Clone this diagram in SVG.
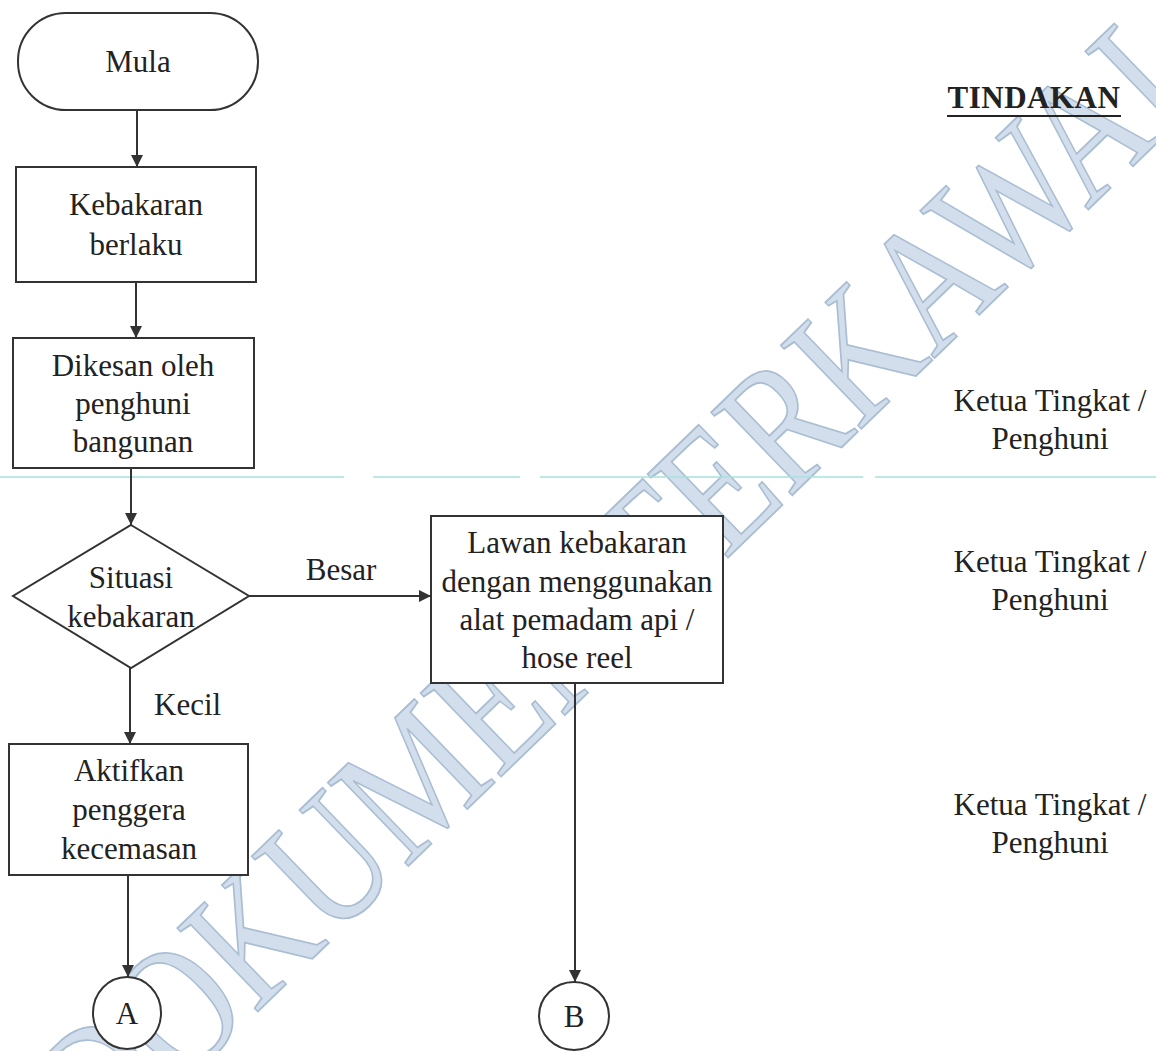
<svg xmlns="http://www.w3.org/2000/svg" width="1156" height="1051" viewBox="0 0 1156 1051">
<style>
.t{font-family:"Liberation Serif","Times New Roman",serif;font-size:31px;fill:#222;text-anchor:middle}
.s{fill:#fff;stroke:#333;stroke-width:2}
.c{stroke:#333;stroke-width:2;fill:none}
.wm{font-family:"Liberation Serif","Times New Roman",serif;font-size:145px;fill:#d2deeb;stroke:#a9bdd3;stroke-width:1.5}
</style>
<defs>
<marker id="ah" markerUnits="userSpaceOnUse" markerWidth="12" markerHeight="12" refX="12" refY="6" orient="auto">
<path d="M0,0 L12,6 L0,12 z" fill="#333"/>
</marker>
</defs>
<rect width="1156" height="1051" fill="#fff"/>
<g id="watermark">
<text class="wm" transform="translate(104,1160) rotate(-44) scale(1,1.22)">DOKUMEN TERKAWAL</text>
</g>
<g id="scanline" stroke="#a6e2de" stroke-width="1.5">
<line x1="0" y1="477" x2="344" y2="477"/>
<line x1="373" y1="477" x2="520" y2="477"/>
<line x1="540" y1="477" x2="863" y2="477"/>
<line x1="875" y1="477" x2="1156" y2="477"/>
</g>
<g id="connectors">
<line class="c" x1="137" y1="110" x2="137" y2="167" marker-end="url(#ah)"/>
<line class="c" x1="136" y1="282" x2="136" y2="338" marker-end="url(#ah)"/>
<line class="c" x1="131" y1="468" x2="131" y2="525" marker-end="url(#ah)"/>
<line class="c" x1="249" y1="596" x2="431" y2="596" marker-end="url(#ah)"/>
<line class="c" x1="130" y1="668" x2="130" y2="744" marker-end="url(#ah)"/>
<line class="c" x1="128" y1="875" x2="128" y2="977" marker-end="url(#ah)"/>
<line class="c" x1="575" y1="683" x2="575" y2="982" marker-end="url(#ah)"/>
<text class="t" x="341" y="580">Besar</text>
<text class="t" x="154" y="715" style="text-anchor:start">Kecil</text>
</g>
<g id="n-mula">
<rect class="s" x="18" y="13" width="240" height="97" rx="48" ry="48"/>
<text class="t" x="138" y="72">Mula</text>
</g>
<g id="n-kebakaran">
<rect class="s" x="16" y="167" width="240" height="115"/>
<text class="t" x="136" y="215">Kebakaran</text>
<text class="t" x="136" y="255">berlaku</text>
</g>
<g id="n-dikesan">
<rect class="s" x="13" y="338" width="241" height="130"/>
<text class="t" x="133" y="376">Dikesan oleh</text>
<text class="t" x="133" y="414">penghuni</text>
<text class="t" x="133" y="452">bangunan</text>
</g>
<g id="n-situasi">
<polygon class="s" points="131,525 249,596 131,668 13,596"/>
<text class="t" x="131" y="588">Situasi</text>
<text class="t" x="131" y="627">kebakaran</text>
</g>
<g id="n-lawan">
<rect class="s" x="431" y="516" width="292" height="167"/>
<text class="t" x="577" y="553">Lawan kebakaran</text>
<text class="t" x="577" y="592">dengan menggunakan</text>
<text class="t" x="577" y="630">alat pemadam api /</text>
<text class="t" x="577" y="668">hose reel</text>
</g>
<g id="n-aktifkan">
<rect class="s" x="9" y="744" width="239" height="131"/>
<text class="t" x="129" y="781">Aktifkan</text>
<text class="t" x="129" y="820">penggera</text>
<text class="t" x="129" y="859">kecemasan</text>
</g>
<g id="n-a">
<ellipse class="s" cx="127" cy="1013" rx="34" ry="36"/>
<text class="t" x="127" y="1024">A</text>
</g>
<g id="n-b">
<ellipse class="s" cx="574" cy="1016" rx="35" ry="34"/>
<text class="t" x="574" y="1027">B</text>
</g>
<g id="tindakan">
<text class="t" x="1034" y="108" style="font-weight:bold;letter-spacing:0.5px">TINDAKAN</text>
<line x1="947" y1="116" x2="1121" y2="116" stroke="#222" stroke-width="2"/>
<text class="t" x="1050" y="411">Ketua Tingkat /</text>
<text class="t" x="1050" y="449">Penghuni</text>
<text class="t" x="1050" y="572">Ketua Tingkat /</text>
<text class="t" x="1050" y="610">Penghuni</text>
<text class="t" x="1050" y="815">Ketua Tingkat /</text>
<text class="t" x="1050" y="853">Penghuni</text>
</g>
</svg>
